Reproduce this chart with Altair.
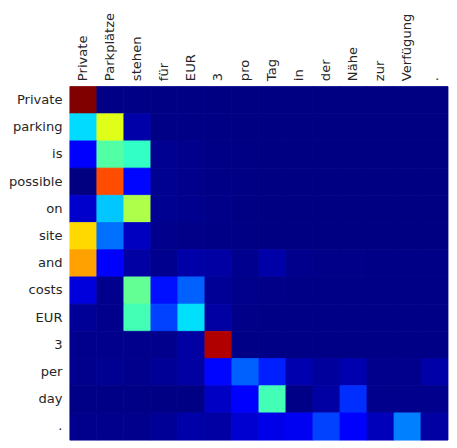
import altair as alt
import numpy as np
import pandas as pd

source_tokens = ["Private", "Parkplätze", "stehen", "für", "EUR", "3", "pro", "Tag",
                 "in", "der", "Nähe", "zur", "Verfügung", "."]
target_tokens = ["Private", "parking", "is", "possible", "on", "site", "and", "costs",
                 "EUR", "3", "per", "day", "."]

# attention weights, one list per target token (row), columns follow source_tokens
row_private  = [1.00, 0.005, 0.005, 0.004, 0.004, 0.003, 0.003, 0.003, 0.003, 0.003, 0.003, 0.003, 0.003, 0.003]
row_parking  = [0.34, 0.62, 0.035, 0.006, 0.005, 0.004, 0.003, 0.003, 0.003, 0.003, 0.003, 0.003, 0.003, 0.003]
row_is       = [0.125, 0.45, 0.41, 0.015, 0.01, 0.005, 0.004, 0.003, 0.003, 0.003, 0.003, 0.003, 0.003, 0.003]
row_possible = [0.0, 0.83, 0.13, 0.015, 0.01, 0.006, 0.004, 0.003, 0.003, 0.003, 0.003, 0.003, 0.003, 0.003]
row_on       = [0.066, 0.32, 0.56, 0.015, 0.012, 0.008, 0.004, 0.003, 0.003, 0.003, 0.003, 0.003, 0.003, 0.003]
row_site     = [0.68, 0.235, 0.055, 0.01, 0.008, 0.006, 0.004, 0.003, 0.003, 0.003, 0.003, 0.003, 0.003, 0.003]
row_and      = [0.74, 0.11, 0.03, 0.012, 0.035, 0.03, 0.012, 0.035, 0.01, 0.008, 0.008, 0.006, 0.006, 0.006]
row_costs    = [0.08, 0.01, 0.47, 0.14, 0.22, 0.02, 0.01, 0.008, 0.006, 0.006, 0.006, 0.005, 0.005, 0.006]
row_eur      = [0.02, 0.01, 0.43, 0.19, 0.345, 0.03, 0.008, 0.006, 0.005, 0.005, 0.005, 0.005, 0.005, 0.006]
row_3        = [0.01, 0.01, 0.01, 0.01, 0.03, 0.958, 0.006, 0.005, 0.005, 0.005, 0.005, 0.005, 0.005, 0.005]
row_per      = [0.01, 0.015, 0.01, 0.02, 0.03, 0.13, 0.22, 0.155, 0.04, 0.025, 0.04, 0.01, 0.01, 0.035]
row_day      = [0.005, 0.005, 0.005, 0.004, 0.004, 0.06, 0.12, 0.43, 0.005, 0.03, 0.17, 0.01, 0.01, 0.01]
row_period   = [0.01, 0.01, 0.01, 0.02, 0.035, 0.03, 0.07, 0.09, 0.1, 0.19, 0.12, 0.05, 0.25, 0.03]

attention = [row_private, row_parking, row_is, row_possible, row_on, row_site, row_and,
             row_costs, row_eur, row_3, row_per, row_day, row_period]

records = []
for tgt, row in zip(target_tokens, attention):
    for src, w in zip(source_tokens, row):
        records.append({"source": src, "target": tgt, "weight": w})
df = pd.DataFrame(records)

# matplotlib "jet" colormap as piecewise-linear stops
stops = [0, 0.11, 0.125, 0.34, 0.35, 0.375, 0.64, 0.65, 0.66, 0.89, 0.91, 1.0]
red_pts = ([0, 0.35, 0.66, 0.89, 1.0], [0, 0, 1, 1, 0.5])
green_pts = ([0, 0.125, 0.375, 0.64, 0.91, 1.0], [0, 0, 1, 1, 0, 0])
blue_pts = ([0, 0.11, 0.34, 0.65, 1.0], [0.5, 1, 1, 0, 0])
jet = []
for s in stops:
    r = np.interp(s, *red_pts)
    g = np.interp(s, *green_pts)
    b = np.interp(s, *blue_pts)
    jet.append("#%02x%02x%02x" % (round(r * 255), round(g * 255), round(b * 255)))

jet_scale = alt.Scale(domain=stops, range=jet, interpolate="rgb")

chart = alt.Chart(df).mark_rect(strokeWidth=0.8).encode(
    x=alt.X("source:N", sort=source_tokens, title=None,
            axis=alt.Axis(orient="top", labelAngle=-90, labelFontSize=13.33,
                          labelFont="DejaVu Sans", labelColor="#262626",
                          ticks=False, domain=False, grid=False, labelPadding=6)),
    y=alt.Y("target:N", sort=target_tokens, title=None,
            axis=alt.Axis(labelFontSize=13.33, labelFont="DejaVu Sans",
                          labelColor="#262626", ticks=False, domain=False,
                          grid=False, labelPadding=8)),
    color=alt.Color("weight:Q", legend=None, scale=jet_scale),
    stroke=alt.Stroke("weight:Q", legend=None, scale=jet_scale),
).properties(
    width=449, height=437, padding=0,
    autosize=alt.AutoSizeParams(type="fit", contains="padding"),
).configure_view(stroke=None).configure_scale(bandPaddingInner=0)

chart.save("out.html", embed_options={"renderer": "svg", "actions": False})
